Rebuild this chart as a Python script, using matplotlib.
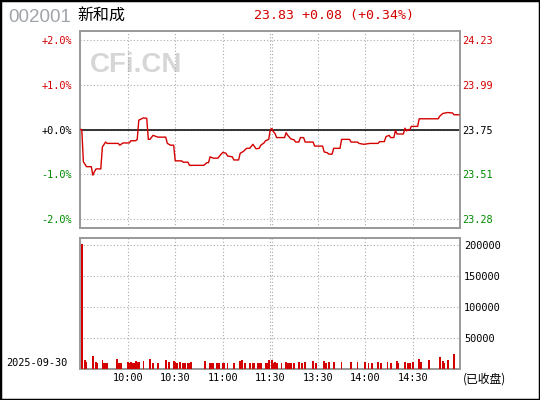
import matplotlib.pyplot as plt
from matplotlib.patches import Rectangle

# dati del grafico (intraday 002001 新和成)
code = "002001"
name = "新和成"
date = "2025-09-30"
header = "23.83 +0.08 (+0.34%)"

# minuti dall'apertura (0 = 9:30, 120 = 11:30/13:00, 240 = 15:00) e variazione %
price_min = [0, 1, 2, 4, 7, 8, 9, 10, 13, 14, 16, 17, 24, 25, 27, 31, 32, 35, 36, 37,
             40, 42, 43, 44, 46, 49, 54, 55, 57, 59, 60, 64, 65, 68, 69, 78, 80, 81, 82, 84,
             87, 88, 90, 92, 93, 96, 97, 100, 101, 103, 105, 107, 109, 110, 111, 113, 114, 116, 117, 119,
             120, 121, 122, 123, 124, 129, 130, 131, 133, 135, 136, 138, 139, 141, 142, 147, 148, 153, 154, 156,
             157, 159, 160, 164, 165, 170, 171, 175, 176, 179, 183, 188, 189, 192, 193, 195, 196, 198, 199, 200,
             204, 205, 206, 207, 208, 209, 213, 214, 226, 227, 229, 232, 235, 236, 239]
price_pct = [0.0, 0.0, -0.72, -0.83, -0.83, -1.02, -0.94, -0.88, -0.88, -0.39, -0.28, -0.31, -0.31, -0.35, -0.30, -0.30, -0.25, -0.25, -0.22, 0.21,
             0.26, 0.25, -0.22, -0.22, -0.13, -0.17, -0.17, -0.31, -0.35, -0.35, -0.70, -0.70, -0.73, -0.73, -0.80, -0.80, -0.74, -0.74, -0.61, -0.64,
             -0.64, -0.59, -0.51, -0.53, -0.59, -0.61, -0.68, -0.68, -0.53, -0.49, -0.42, -0.42, -0.33, -0.38, -0.43, -0.42, -0.35, -0.30, -0.25, -0.22,
             0.0, 0.02, -0.05, -0.09, -0.18, -0.18, -0.07, -0.13, -0.21, -0.23, -0.28, -0.28, -0.18, -0.18, -0.28, -0.28, -0.37, -0.37, -0.50, -0.52,
             -0.55, -0.55, -0.42, -0.42, -0.22, -0.22, -0.28, -0.28, -0.31, -0.33, -0.31, -0.31, -0.27, -0.27, -0.16, -0.13, -0.18, -0.18, -0.02, -0.10,
             -0.10, 0.03, -0.03, 0.0, -0.01, 0.07, 0.07, 0.24, 0.24, 0.30, 0.36, 0.38, 0.37, 0.33, 0.33]

# volumi per minuto
vol_min = [1, 3, 4, 8, 10, 11, 14, 15, 16, 17, 23, 24, 25, 26, 30, 31, 32, 33, 34, 35,
           36, 37, 40, 44, 46, 49, 54, 56, 59, 60, 61, 63, 65, 66, 68, 69, 70, 79, 82, 83,
           84, 86, 87, 88, 90, 91, 93, 97, 101, 102, 104, 107, 109, 110, 112, 113, 114, 117, 118, 119,
           121, 122, 123, 124, 127, 130, 131, 132, 133, 135, 138, 140, 142, 147, 149, 154, 155, 157, 160, 165,
           171, 175, 180, 182, 184, 188, 190, 194, 196, 200, 201, 205, 207, 208, 210, 214, 215, 220, 227, 229,
           230, 232, 236]
vol_val = [201500, 14500, 11800, 20900, 11800, 10200, 14500, 10200, 10200, 10200, 17200, 10200, 10200, 10200, 11800, 10700, 11800, 10200, 10200, 13400,
           11800, 11800, 13400, 16100, 10200, 10200, 14500, 11800, 12900, 11800, 10200, 11800, 10200, 10200, 10200, 10200, 11800, 13400, 10700, 10200,
           10200, 10200, 10200, 10200, 10200, 10200, 10200, 10200, 13400, 14500, 10200, 10200, 10200, 10200, 10200, 10200, 10200, 10200, 10200, 15000,
           14500, 10200, 11800, 10200, 10200, 11800, 10200, 10200, 10200, 10200, 11800, 10200, 11800, 13400, 10200, 13400, 10200, 11800, 11800, 11800,
           11800, 11800, 11800, 10200, 10200, 11800, 10200, 11800, 10200, 13400, 10200, 11800, 10200, 10200, 11800, 16600, 11800, 15000, 19300, 13400,
           10200, 15000, 24700]

time_ticks = [30, 60, 90, 120, 150, 180, 210]
time_labels = ["10:00", "10:30", "11:00", "11:30", "13:30", "14:00", "14:30"]
pct_ticks = [2, 1, 0, -1, -2]
pct_labels = ["+2.0%", "+1.0%", "+0.0%", "-1.0%", "-2.0%"]
price_labels = ["24.23", "23.99", "23.75", "23.51", "23.28"]
vol_ticks = [50000, 100000, 150000, 200000]
vol_labels = ["50000", "100000", "150000", "200000"]

RED = "#d40000"
GREEN = "#008a00"
label_colors = [RED, RED, "black", GREEN, GREEN]
mono = "DejaVu Sans Mono"
cjk = ["Noto Sans CJK SC", "DejaVu Sans"]
grid_style = dict(color="#aaaaaa", linestyle=(0, (1, 2)), linewidth=0.8)

fig = plt.figure(figsize=(5.4, 4.0), dpi=100)

# pannello prezzo
ax = fig.add_axes([80.2 / 540, 1 - 228 / 400, 380.2 / 540, 196.5 / 400])
ax.set_xlim(0, 240)
ax.set_ylim(-2.2, 2.19)
ax.set_xticks(time_ticks)
ax.set_xticklabels([])
ax.set_yticks(pct_ticks)
ax.set_yticklabels(pct_labels, fontfamily=mono, fontsize=7.4)
for lab, c in zip(ax.get_yticklabels(), label_colors):
    lab.set_color(c)
ax.tick_params(length=0, pad=6)
ax.grid(True, **grid_style)
ax.axvline(121, zorder=0.5, **grid_style)
ax.axhline(0, color="black", linewidth=1.1, zorder=2)
ax.text(0.026, 0.83, "CFi.CN", transform=ax.transAxes, fontsize=20, fontweight="bold",
        fontfamily="Liberation Sans", color="#d6d6d6", ha="left", va="center", zorder=1)
ax.plot(price_min, price_pct, color=RED, linewidth=1.0, zorder=3)
for s in ax.spines.values():
    s.set_color("#999999")
    s.set_linewidth(1.4)

ax2 = ax.twinx()
ax2.set_ylim(ax.get_ylim())
ax2.set_yticks(pct_ticks)
ax2.set_yticklabels(price_labels, fontfamily=mono, fontsize=7.4)
for lab, c in zip(ax2.get_yticklabels(), label_colors):
    lab.set_color(c)
ax2.tick_params(length=0, pad=1)
for s in ax2.spines.values():
    s.set_visible(False)

# pannello volumi
axv = fig.add_axes([80.2 / 540, 1 - 369.3 / 400, 380.2 / 540, 131 / 400])
axv.bar(vol_min, vol_val, width=1.1, color=RED, linewidth=0, zorder=3)
axv.set_xlim(0, 240)
axv.set_ylim(0, 210800)
axv.set_xticks(time_ticks)
axv.set_xticklabels(time_labels, fontfamily=mono, fontsize=7.4)
axv.set_yticks(vol_ticks)
axv.yaxis.tick_right()
axv.set_yticklabels(vol_labels, fontfamily=mono, fontsize=7.4)
axv.tick_params(length=0, pad=2.5)
axv.grid(True, **grid_style)
axv.axvline(121, zorder=0.5, **grid_style)
for s in axv.spines.values():
    s.set_color("#999999")
    s.set_linewidth(1.4)

# testi di intestazione
fig.text(8 / 540, 1 - 17.5 / 400, code, fontfamily="Liberation Sans", fontsize=13.5,
         color="#a0a4aa", ha="left", va="center")
fig.text(77 / 540, 1 - 15 / 400, name, fontfamily=cjk, fontsize=11.5, color="black",
         ha="left", va="center")
fig.text(334 / 540, 1 - 15.5 / 400, header, fontfamily=mono, fontsize=9.5, color=RED,
         ha="center", va="center")
fig.text(6.5 / 540, 1 - 363.3 / 400, date, fontfamily=mono, fontsize=7.4, color="black",
         ha="left", va="center")
fig.text(463 / 540, 1 - 379.5 / 400, "(已收盘)", fontfamily=cjk, fontsize=8.5, color="black",
         ha="left", va="center")

# cornice esterna
fig.patches.append(Rectangle((0, 0), 1, 1, transform=fig.transFigure, fill=False,
                             edgecolor="black", linewidth=2.5))

fig.savefig("out.png", dpi=100)
